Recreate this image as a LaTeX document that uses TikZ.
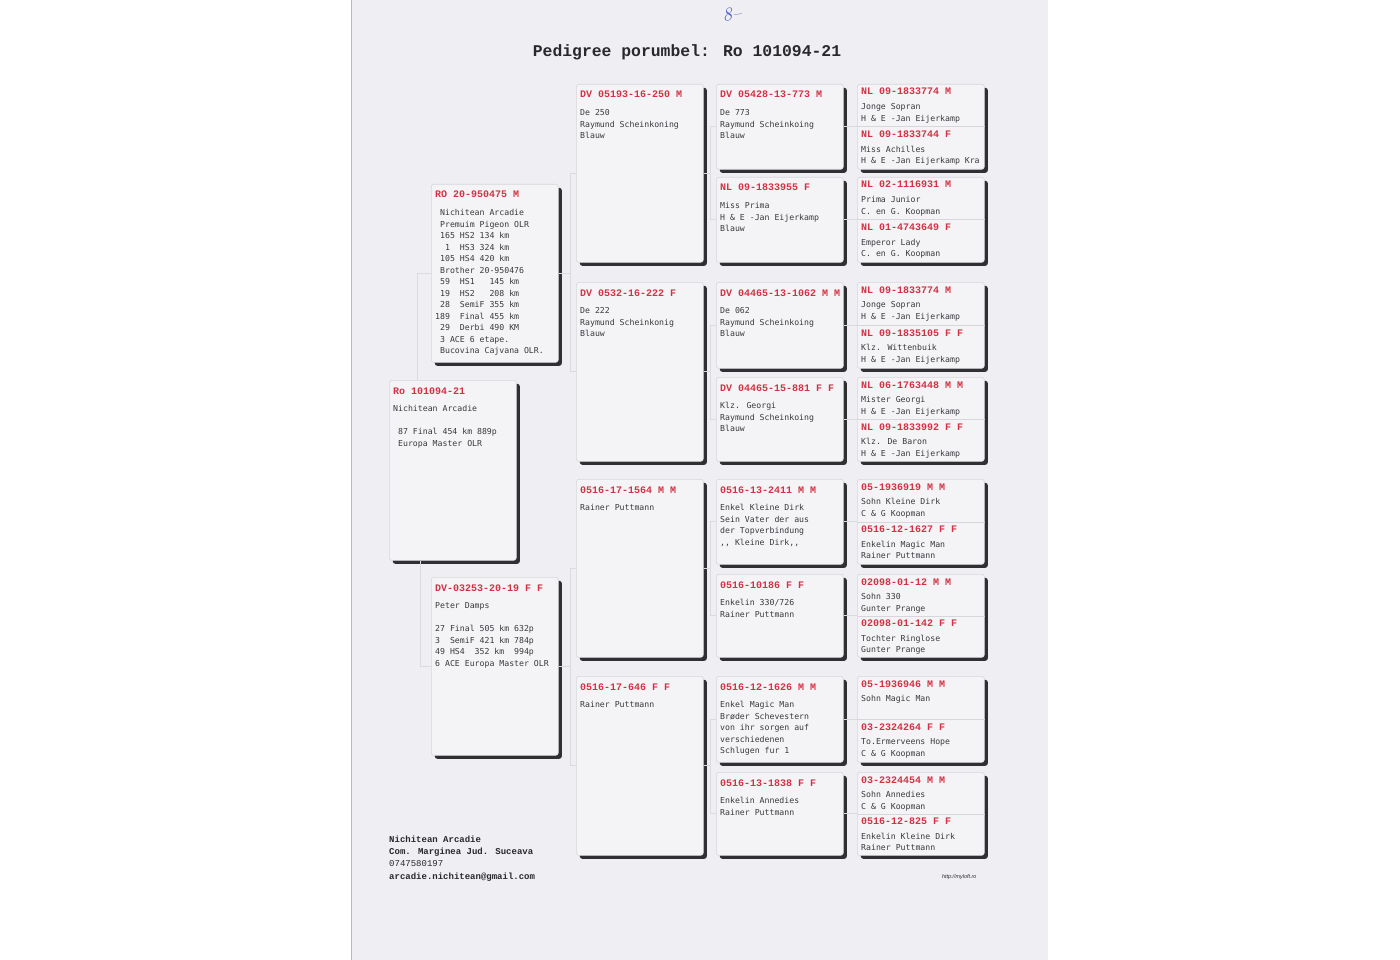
\documentclass[tikz,border=0pt]{standalone}
\usepackage{fontspec}
\usetikzlibrary{shadows,calc}
\newfontfamily\dvmono{DejaVu Sans Mono}
\newfontfamily\lmono{Liberation Mono}
\newfontfamily\lsans{Liberation Sans}
\definecolor{pagec}{RGB}{238,238,243}
\definecolor{cardfill}{RGB}{244,244,247}
\definecolor{cardline}{RGB}{214,214,220}
\definecolor{shadowc}{RGB}{48,48,50}
\definecolor{hdrred}{RGB}{212,50,68}
\definecolor{bodyc}{RGB}{58,58,62}
\definecolor{connc}{RGB}{218,218,224}
\definecolor{titlec}{RGB}{40,40,45}
\definecolor{handblue}{RGB}{80,95,200}
\definecolor{edgec}{RGB}{185,185,190}
\newcommand\bodyfont{\dvmono\fontsize{8.2}{11.5}\selectfont}
\newcommand\hdrfont{\lmono\bfseries\fontsize{10}{12}\selectfont}
\newcommand\Z{\hphantom{0}}
\tikzset{
  card/.style={draw=cardline, fill=cardfill, rounded corners=2.5pt, line width=0.6pt,
    minimum width=127pt, inner sep=0pt,
    general shadow={fill=shadowc, shadow xshift=3.5pt, shadow yshift=-3.5pt}},
  hdr/.style={anchor=base west, inner sep=0pt, text=hdrred, font=\hdrfont},
  body/.style={anchor=north west, inner sep=0pt, align=left, text=bodyc, font=\bodyfont},
  conn/.style={draw=connc, line width=0.8pt},
  sepline/.style={draw=cardline, line width=0.6pt}
}
\newcommand\pcard[6]{%
  \node[card, minimum height=#4pt, anchor=north west] (#1) at (#2,#3) {};
  \node[hdr] (#1h) at (#2+4,#3+14) {#5};
  \node[body] (#1b) at (#2+4,#3+23.5) {\strut #6};
}
\newcommand\gfcard[8]{%
  \node[card, minimum height=#4pt, anchor=north west] (#1) at (#2,#3) {};
  \draw[sepline] (#1.west) -- (#1.east);
  \node[hdr] (#1h1) at (#2+4,#3+11) {#5};
  \node[body] (#1b1) at (#2+4,#3+17.5) {\strut #6};
  \node[hdr] (#1h2) at (#2+4,#3+#4/2+11) {#7};
  \node[body] (#1b2) at (#2+4,#3+#4/2+17.5) {\strut #8};
}
\newcommand\bracket[4]{%
  \draw[conn] (#1.east) -- ++(#4,0) coordinate (#1j);
  \draw[conn] (#2.west) -| (#1j) |- (#3.west);
}
\begin{document}
\begin{tikzpicture}[x=1pt,y=-1pt]
\useasboundingbox (0,0) rectangle (1400,960);
\fill[white] (0,0) rectangle (1400,960);
\fill[pagec] (351,0) rectangle (1048,960);
\draw[edgec, line width=0.8pt] (351.4,0) -- (351.4,960);

% title
\node[font=\lmono\bfseries\fontsize{16.4}{18}\selectfont, text=titlec, inner sep=0pt] (title) at (687,52) {Pedigree porumbel: Ro 101094-21};
\node[font=\itshape\fontsize{19}{19}\selectfont, text=handblue, inner sep=0pt, rotate=8] (hand) at (732,14) {8--};

% subject, sire, dam
\pcard{subj}{389}{380}{180}{Ro 101094-21}{Nichitean Arcadie\\ \mbox{}\\ \Z 87 Final 454 km 889p\\ \Z Europa Master OLR}
\pcard{sire}{431}{184}{178}{RO 20-950475 M}{\Z Nichitean Arcadie\\ \Z Premuim Pigeon OLR\\ \Z 165 HS2 134 km\\ \Z\Z 1~~HS3 324 km\\ \Z 105 HS4 420 km\\ \Z Brother 20-950476\\ \Z 59~~HS1~~~145 km\\ \Z 19~~HS2~~~208 km\\ \Z 28~~SemiF 355 km\\ 189~~Final 455 km\\ \Z 29~~Derbi 490 KM\\ \Z 3 ACE 6 etape.\\ \Z Bucovina Cajvana OLR.}
\pcard{dam}{431}{577}{178}{DV-03253-20-19 F F}{Peter Damps\\ \mbox{}\\ 27 Final 505 km 632p\\ 3~~SemiF 421 km 784p\\ 49 HS4~~352 km~~994p\\ 6 ACE Europa Master OLR}

% generation 2
\pcard{g2a}{576}{84}{178}{DV 05193-16-250 M}{De 250\\ Raymund Scheinkoning\\ Blauw}
\pcard{g2b}{576}{282}{179}{DV 0532-16-222 F}{De 222\\ Raymund Scheinkonig\\ Blauw}
\pcard{g2c}{576}{479}{178}{0516-17-1564 M M}{Rainer Puttmann}
\pcard{g2d}{576}{676}{179}{0516-17-646 F F}{Rainer Puttmann}

% generation 3
\pcard{g3a}{716}{84}{85}{DV 05428-13-773 M}{De 773\\ Raymund Scheinkoing\\ Blauw}
\pcard{g3b}{716}{177}{85}{NL 09-1833955 F}{Miss Prima\\ H \& E -Jan Eijerkamp\\ Blauw}
\pcard{g3c}{716}{282}{86}{DV 04465-13-1062 M M}{De 062\\ Raymund Scheinkoing\\ Blauw}
\pcard{g3d}{716}{377}{84}{DV 04465-15-881 F F}{Klz. Georgi\\ Raymund Scheinkoing\\ Blauw}
\pcard{g3e}{716}{479}{85}{0516-13-2411 M M}{Enkel Kleine Dirk\\ Sein Vater der aus\\ der Topverbindung\\ ,, Kleine Dirk,,}
\pcard{g3f}{716}{574}{83}{0516-10186 F F}{Enkelin 330/726\\ Rainer Puttmann}
\pcard{g3g}{716}{676}{86}{0516-12-1626 M M}{Enkel Magic Man\\ Brøder Schevestern\\ von ihr sorgen auf\\ verschiedenen\\ Schlugen fur 1}
\pcard{g3h}{716}{772}{83}{0516-13-1838 F F}{Enkelin Annedies\\ Rainer Puttmann}

% generation 4
\gfcard{g4a}{857}{84}{85}{NL 09-1833774 M}{Jonge Sopran\\ H \& E -Jan Eijerkamp}{NL 09-1833744 F}{Miss Achilles\\ H \& E -Jan Eijerkamp Kra}
\gfcard{g4b}{857}{177}{85}{NL 02-1116931 M}{Prima Junior\\ C. en G. Koopman}{NL 01-4743649 F}{Emperor Lady\\ C. en G. Koopman}
\gfcard{g4c}{857}{282}{86}{NL 09-1833774 M}{Jonge Sopran\\ H \& E -Jan Eijerkamp}{NL 09-1835105 F F}{Klz. Wittenbuik\\ H \& E -Jan Eijerkamp}
\gfcard{g4d}{857}{377}{84}{NL 06-1763448 M M}{Mister Georgi\\ H \& E -Jan Eijerkamp}{NL 09-1833992 F F}{Klz. De Baron\\ H \& E -Jan Eijerkamp}
\gfcard{g4e}{857}{479}{85}{05-1936919 M M}{Sohn Kleine Dirk\\ C \& G Koopman}{0516-12-1627 F F}{Enkelin Magic Man\\ Rainer Puttmann}
\gfcard{g4f}{857}{574}{83}{02098-01-12 M M}{Sohn 330\\ Gunter Prange}{02098-01-142 F F}{Tochter Ringlose\\ Gunter Prange}
\gfcard{g4g}{857}{676}{86}{05-1936946 M M}{Sohn Magic Man}{03-2324264 F F}{To.Ermerveens Hope\\ C \& G Koopman}
\gfcard{g4h}{857}{772}{83}{03-2324454 M M}{Sohn Annedies\\ C \& G Koopman}{0516-12-825 F F}{Enkelin Kleine Dirk\\ Rainer Puttmann}

% faint connectors (in the gaps between cards)
\draw[conn] (sire.west) -| ([xshift=28pt]subj.north west);
\draw[conn] (dam.west) -| ([xshift=31pt]subj.south west);
\bracket{sire}{g2a}{g2b}{12}
\bracket{dam}{g2c}{g2d}{12}
\bracket{g2a}{g3a}{g3b}{7}
\bracket{g2b}{g3c}{g3d}{7}
\bracket{g2c}{g3e}{g3f}{7}
\bracket{g2d}{g3g}{g3h}{7}
\bracket{g3a}{g4a}{g4a}{7}
\bracket{g3b}{g4b}{g4b}{7}
\bracket{g3c}{g4c}{g4c}{7}
\bracket{g3d}{g4d}{g4d}{7}
\bracket{g3e}{g4e}{g4e}{7}
\bracket{g3f}{g4f}{g4f}{7}
\bracket{g3g}{g4g}{g4g}{7}
\bracket{g3h}{g4h}{g4h}{7}

% footer
\node[anchor=north west, inner sep=0pt, align=left, text=titlec, font=\lmono\bfseries\fontsize{9}{12.3}\selectfont] (footer) at (389,833.4)
  {\strut Nichitean Arcadie\\ Com. Marginea Jud. Suceava\\ {\mdseries 0747580197}\\ arcadie.nichitean@gmail.com};
\node[anchor=base west, inner sep=0pt, text=titlec, font=\lsans\itshape\fontsize{5.4}{6}\selectfont] (site) at (942,878) {http://myloft.ro};
\end{tikzpicture}
\end{document}
